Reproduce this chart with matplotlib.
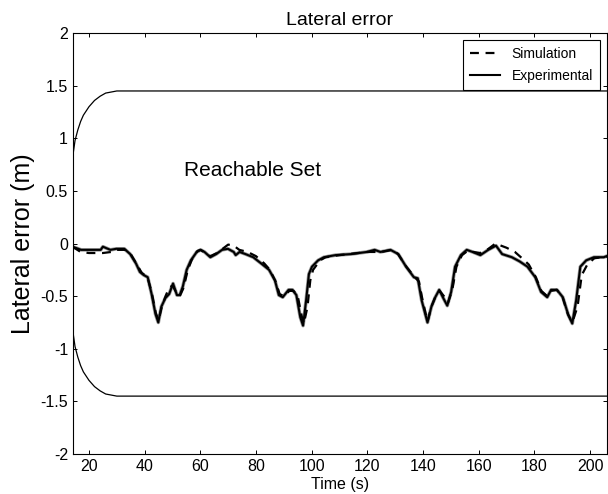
import matplotlib
matplotlib.use('Agg')
import matplotlib.pyplot as plt

plt.rcParams['font.family'] = ['Liberation Sans', 'DejaVu Sans']

# reachable set boundary
t_set = [14.3, 15, 16, 17, 18, 19, 20, 22, 24, 26, 28, 30, 33, 206]
upper = [0.85, 0.98, 1.08, 1.16, 1.22, 1.26, 1.30, 1.36, 1.40, 1.43, 1.44, 1.45, 1.45, 1.45]
lower = [-0.85, -0.98, -1.08, -1.16, -1.22, -1.26, -1.30, -1.36, -1.40, -1.43, -1.44, -1.45, -1.45, -1.45]

# experimental lateral error
t_exp = [14.1, 17.2, 20, 24.2, 25, 27.7, 29.8, 31.2, 32.7, 34.8, 36.9, 38.3, 39.7, 41.1,
         42.5, 43.9, 44.9, 46.0, 47.4, 48.8, 50.2, 51.6, 52.6, 53.7, 55.1, 56.6, 58.7,
         60.1, 61.5, 63.6, 65.7, 67.8, 69.9, 72, 72.7, 74.1, 76.2, 79, 81.9, 84.7, 86.8,
         88.2, 89.6, 91.7, 93.1, 94.5, 95.9, 96.9, 98, 99, 100.1, 102.3, 104.4, 108.6,
         114.2, 119.8, 122.6, 124.7, 128.3, 131.1, 133.9, 136.7, 138.1, 139.5, 141.6,
         143, 144.4, 145.8, 147.3, 148.7, 150.1, 151.5, 153.6, 155.7, 157.8, 160.6,
         163.4, 166.2, 168.4, 171.9, 174.7, 177.5, 180.3, 182.4, 184.6, 186, 188.1,
         190.2, 192.2, 193.6, 195, 196.5, 198.6, 201.4, 204.9, 207]
e_exp = [-0.03, -0.06, -0.06, -0.06, -0.03, -0.06, -0.05, -0.05, -0.05, -0.10, -0.19, -0.27,
         -0.30, -0.32, -0.48, -0.67, -0.75, -0.60, -0.52, -0.48, -0.38, -0.49, -0.49, -0.41,
         -0.25, -0.16, -0.08, -0.06, -0.08, -0.13, -0.10, -0.06, -0.05, -0.08, -0.11, -0.08,
         -0.10, -0.13, -0.19, -0.25, -0.35, -0.49, -0.51, -0.44, -0.44, -0.49, -0.70, -0.78,
         -0.54, -0.29, -0.22, -0.16, -0.13, -0.11, -0.10, -0.08, -0.06, -0.08, -0.06, -0.10,
         -0.22, -0.32, -0.33, -0.54, -0.75, -0.60, -0.51, -0.44, -0.52, -0.59, -0.46, -0.22,
         -0.11, -0.06, -0.08, -0.11, -0.06, -0.02, -0.10, -0.13, -0.17, -0.22, -0.32, -0.46,
         -0.51, -0.44, -0.44, -0.51, -0.68, -0.76, -0.54, -0.22, -0.16, -0.13, -0.13, -0.11]

# simulated lateral error
t_sim = [14.1, 17, 20, 25, 28, 30, 33, 35, 37, 39, 41, 42.5, 44, 45, 46, 47.5, 48.8, 50,
         51.5, 52.6, 54, 55.5, 57, 59, 60, 62, 63.6, 66, 68, 70, 72, 74, 77, 80, 83, 85,
         87, 88.5, 90, 92, 93.5, 95, 96.5, 97.2, 98.5, 99.5, 100.5, 103, 105, 110, 120,
         125, 129, 131, 134, 137, 138.5, 140, 141.6, 143, 144.5, 146, 147.5, 149, 150.5,
         152, 154, 156, 158, 160.6, 163, 166, 168, 170, 173, 176, 178, 180.5, 182.5,
         184.6, 186, 188, 190, 192, 193.6, 195.5, 197, 199, 201.5, 207]
e_sim = [-0.03, -0.08, -0.09, -0.09, -0.08, -0.06, -0.06, -0.10, -0.19, -0.28, -0.32, -0.46,
         -0.66, -0.73, -0.62, -0.50, -0.42, -0.40, -0.47, -0.50, -0.42, -0.25, -0.15, -0.07,
         -0.06, -0.09, -0.12, -0.09, -0.05, -0.01, -0.02, -0.06, -0.08, -0.12, -0.19, -0.25,
         -0.36, -0.48, -0.50, -0.45, -0.45, -0.50, -0.70, -0.76, -0.60, -0.35, -0.25, -0.16,
         -0.13, -0.11, -0.08, -0.08, -0.06, -0.10, -0.22, -0.32, -0.36, -0.56, -0.74, -0.60,
         -0.50, -0.45, -0.50, -0.56, -0.44, -0.22, -0.11, -0.07, -0.08, -0.09, -0.06, 0.00,
         -0.02, -0.04, -0.08, -0.15, -0.20, -0.32, -0.45, -0.50, -0.45, -0.44, -0.50, -0.67,
         -0.75, -0.60, -0.30, -0.20, -0.14, -0.12]

x_ticks = [20, 40, 60, 80, 100, 120, 140, 160, 180, 200]
y_ticks = [-2, -1.5, -1, -0.5, 0, 0.5, 1, 1.5, 2]
y_labels = ['-2', '-1.5', '-1', '-0.5', '0', '0.5', '1', '1.5', '2']

fig = plt.figure(figsize=(6.08, 4.94), dpi=100)
ax = fig.add_axes([0.120, 0.081, 0.878, 0.852])

ax.plot(t_set, upper, color='black', lw=0.9)
ax.plot(t_set, lower, color='black', lw=0.9)
ax.plot(t_exp, e_exp, color='#999999', lw=2.6, solid_joinstyle='round')
ax.plot(t_sim, e_sim, color='black', lw=1.6, ls=(0, (4, 3)), label='Simulation')
ax.plot(t_exp, e_exp, color='black', lw=1.5, label='Experimental')

ax.text(54, 0.69, 'Reachable Set', fontsize=15, va='center', ha='left')

ax.set_xlim(14.25, 206)
ax.set_ylim(-2, 2)
ax.set_xticks(x_ticks)
ax.set_yticks(y_ticks)
ax.set_yticklabels(y_labels)
ax.tick_params(direction='in', top=True, right=True, labelsize=11.5, length=3, width=0.7)
for s in ax.spines.values():
    s.set_linewidth(0.8)

ax.set_title('Lateral error', fontsize=14, pad=6)
ax.set_xlabel('Time (s)', fontsize=11.5, labelpad=2)
ax.set_ylabel('Lateral error (m)', fontsize=18, labelpad=4)

leg = ax.legend(loc='upper right', fontsize=10, handlelength=2.2, fancybox=False,
                edgecolor='black', framealpha=1, borderaxespad=0.5, labelspacing=0.6,
                borderpad=0.5)
leg.get_frame().set_linewidth(0.8)

fig.savefig('out.png', dpi=100)
